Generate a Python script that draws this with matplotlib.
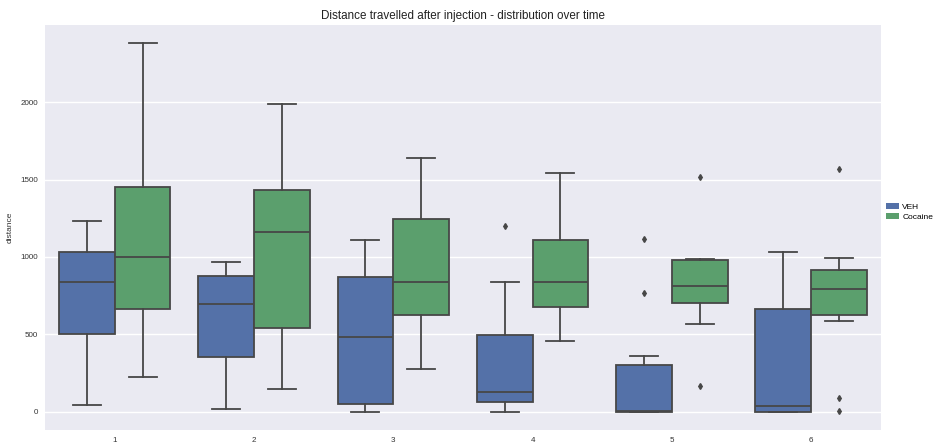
import numpy as np
import matplotlib.pyplot as plt
from matplotlib.patches import Patch

# -- -----------------------------
# values (per time bin: VEH / Cocaine)
time_labels = ['1', '2', '3', '4', '5', '6']
groups = ['VEH', 'Cocaine']

veh_whislo = [43, 17, 0, 0, 0, 0]
veh_q1 = [505, 352, 48, 61, 0, 0]
veh_med = [837, 697, 485, 127, 5, 39]
veh_q3 = [1033, 880, 869, 496, 302, 664]
veh_whishi = [1235, 968, 1109, 839, 360, 1029]
veh_fliers = [[], [], [], [1197], [1119, 770], []]

coc_whislo = [222, 147, 276, 455, 565, 587]
coc_q1 = [664, 539, 625, 679, 705, 624]
coc_med = [1001, 1160, 837, 839, 815, 794]
coc_q3 = [1453, 1434, 1248, 1108, 979, 915]
coc_whishi = [2383, 1990, 1637, 1544, 988, 994]
coc_fliers = [[], [], [], [], [1514, 166], [1570, 87, 6]]
# -- -----------------------------

colors = ['#5471a8', '#5b9f6d']
line_col = '#474747'
fam = ['Liberation Sans', 'DejaVu Sans']


def make_stats(whislo, q1, med, q3, whishi, fliers):
    return [
        {'whislo': a, 'q1': b, 'med': c, 'q3': d, 'whishi': e, 'fliers': f}
        for a, b, c, d, e, f in zip(whislo, q1, med, q3, whishi, fliers)
    ]


fig = plt.figure(figsize=(9.39, 4.43), dpi=100)
ax = fig.add_axes([0.048, 0.029, 0.890, 0.915])
ax.set_facecolor('#EAEAF2')
for s in ax.spines.values():
    s.set_visible(False)

x = np.arange(len(time_labels))
all_stats = [
    make_stats(veh_whislo, veh_q1, veh_med, veh_q3, veh_whishi, veh_fliers),
    make_stats(coc_whislo, coc_q1, coc_med, coc_q3, coc_whishi, coc_fliers),
]
offsets = [-0.2, 0.2]

for stats, off, col in zip(all_stats, offsets, colors):
    ax.bxp(
        stats,
        positions=x + off,
        widths=0.4,
        capwidths=0.2,
        patch_artist=True,
        manage_ticks=False,
        boxprops=dict(facecolor=col, edgecolor=line_col, linewidth=1.3),
        medianprops=dict(color=line_col, linewidth=1.3),
        whiskerprops=dict(color=line_col, linewidth=1.3),
        capprops=dict(color=line_col, linewidth=1.3),
        flierprops=dict(marker='d', markersize=3, markerfacecolor=line_col,
                        markeredgecolor=line_col, linestyle='none'),
        zorder=3,
    )

ax.set_xlim(-0.5, len(time_labels) - 0.5)
ax.set_ylim(-119, 2500)
ax.set_xticks(x)
ax.set_xticklabels(time_labels, family=fam)
ax.set_yticks([0, 500, 1000, 1500, 2000])
ax.set_yticklabels([0, 500, 1000, 1500, 2000], family=fam)
ax.yaxis.grid(True, color='white', linewidth=1)
ax.set_axisbelow(True)
ax.tick_params(length=0, labelsize=5.8, colors='#333333', pad=5)
ax.set_ylabel('distance', fontsize=6, color='#333333', labelpad=5,
              family=fam)
ax.set_title('Distance travelled after injection - distribution over time',
             fontsize=8.4, color='#222222', pad=4, family=fam)

handles = [Patch(facecolor=c, edgecolor='none') for c in colors]
ax.legend(handles, groups, loc='center left', bbox_to_anchor=(1.0, 0.538),
          frameon=False, prop={'family': fam, 'size': 6},
          handlelength=1.6, handleheight=0.7, handletextpad=0.4,
          labelspacing=0.25, borderaxespad=0.2)

fig.savefig('out.png', dpi=100)
